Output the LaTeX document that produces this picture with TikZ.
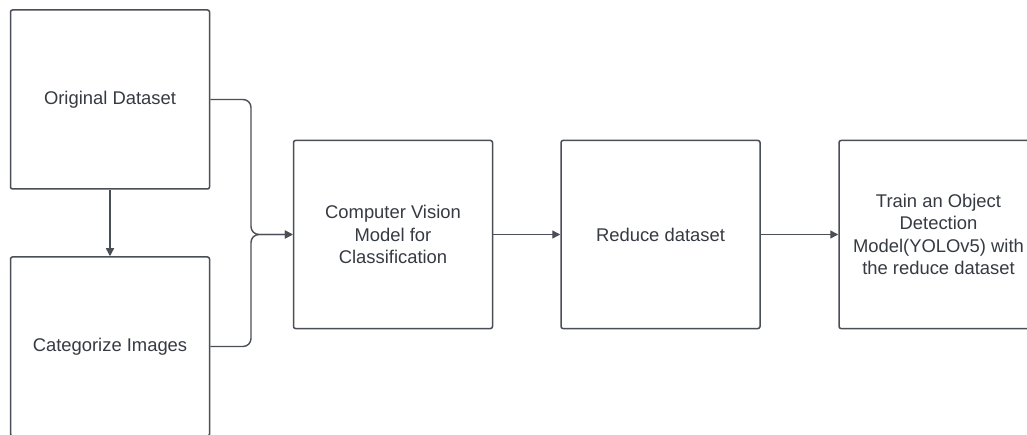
\documentclass[tikz,border=0pt]{standalone}
\usepackage{fontspec}
\setmainfont{Liberation Sans}
\usetikzlibrary{arrows.meta}
\definecolor{edge}{HTML}{4A4E57}
\definecolor{txt}{HTML}{363A42}
\begin{document}
\begin{tikzpicture}[x=1pt,y=-1pt,
  procbox/.style={draw=edge, line width=1.5pt, rounded corners=2pt, minimum width=199pt, minimum height=188pt, inner sep=0pt, align=center, text=txt, font=\fontsize{18.4}{22.5}\selectfont},
  conn/.style={draw=edge, line width=1.4pt, -{Triangle[length=8pt,width=8pt]}},
  link/.style={draw=edge, line width=1.4pt, rounded corners=8pt}]
\useasboundingbox (0,0) rectangle (1027,435);
\fill[white] (0,0) rectangle (1027,435);
\clip (0,0) rectangle (1027,435);
\node[procbox, minimum height=179pt] (orig) at (110,99.5) {Original Dataset};
\node[procbox, minimum height=179pt] (cat) at (110,346.5) {Categorize Images};
\node[procbox] (cv) at (393,234.5) {Computer Vision\\Model for\\Classification};
\node[procbox] (red) at (660.5,234.5) {Reduce dataset};
\node[procbox] (train) at (938.5,234.5) {Train an Object\\Detection\\Model(YOLOv5) with\\the reduce dataset};
\draw[conn] (orig.south) -- (cat.north);
\draw[link, conn] (orig.east) -| (251,234.5) -- (cv.west);
\draw[link, conn] (cat.east) -| (251,234.5) -- (cv.west);
\draw[conn] (cv.east) -- (red.west);
\draw[conn] (red.east) -- (train.west);
\end{tikzpicture}
\end{document}
